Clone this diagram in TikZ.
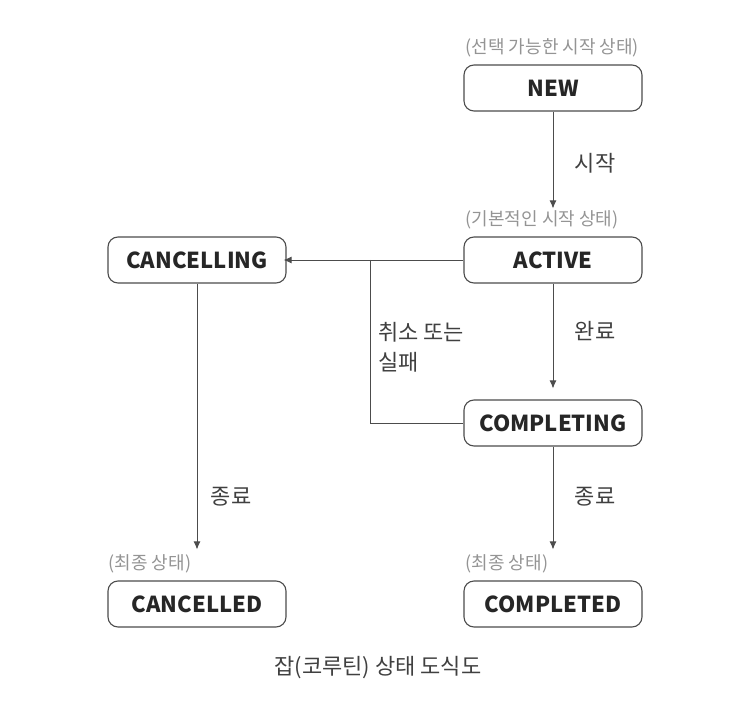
\documentclass[tikz,border=0pt]{standalone}
\usepackage{fontspec}
\setmainfont{Noto Sans CJK KR}
\usetikzlibrary{arrows.meta}
\begin{document}
\begin{tikzpicture}[x=1pt,y=-1pt,
  state/.style={draw=black!70, line width=1.1pt, rounded corners=10pt, minimum width=178pt, minimum height=46pt, inner sep=0pt, font=\fontsize{22}{24}\selectfont\bfseries, text=black!85},
  note/.style={font=\fontsize{18}{20}\selectfont, text=black!42, inner sep=0pt, anchor=west},
  elabel/.style={font=\fontsize{22}{30}\selectfont, text=black!75, inner sep=0pt, align=left},
  conn/.style={draw=black!70, line width=0.9pt},
  arr/.style={conn, -{Latex[length=8pt,width=7pt]}}]
\useasboundingbox (0,0) rectangle (738,708);
\node[state] (new) at (553,88) {NEW};
\node[state] (active) at (553,260) {ACTIVE};
\node[state, minimum width=178pt] (cancelling) at (197,260) {CANCELLING};
\node[state] (completing) at (553,423) {COMPLETING};
\node[state, minimum width=178pt] (cancelled) at (197,604) {CANCELLED};
\node[state] (completed) at (553,604) {COMPLETED};
\node[note] (nnew) at ([xshift=2pt,yshift=17pt]new.north west) {(선택 가능한 시작 상태)};
\node[note] (nactive) at ([xshift=2pt,yshift=17pt]active.north west) {(기본적인 시작 상태)};
\node[note] (ncancelled) at ([xshift=1pt,yshift=17pt]cancelled.north west) {(최종 상태)};
\node[note] (ncompleted) at ([xshift=2pt,yshift=17pt]completed.north west) {(최종 상태)};
\draw[arr] (new.south) -- ([yshift=28pt]active.north);
\node[elabel] (l1) at (595,163) {시작};
\draw[arr] (active.west) -- ([xshift=-3pt]cancelling.east);
\coordinate (j) at (370,260);
\draw[conn] (j) -- (j |- completing.west) -- (completing.west);
\node[elabel, anchor=west] (l2) at (378,347) {취소 또는\\실패};
\draw[arr] (active.south) -- ([yshift=11pt]completing.north);
\node[elabel] (l3) at (595,331) {완료};
\draw[arr] (cancelling.south) -- ([yshift=31pt]cancelled.north);
\node[elabel] (l4) at (231,497) {종료};
\draw[arr] (completing.south) -- ([yshift=31pt]completed.north);
\node[elabel] (l5) at (595,497) {종료};
\node[font=\fontsize{22}{24}\selectfont, text=black!75] (cap) at (378,668) {잡(코루틴) 상태 도식도};
\end{tikzpicture}
\end{document}
